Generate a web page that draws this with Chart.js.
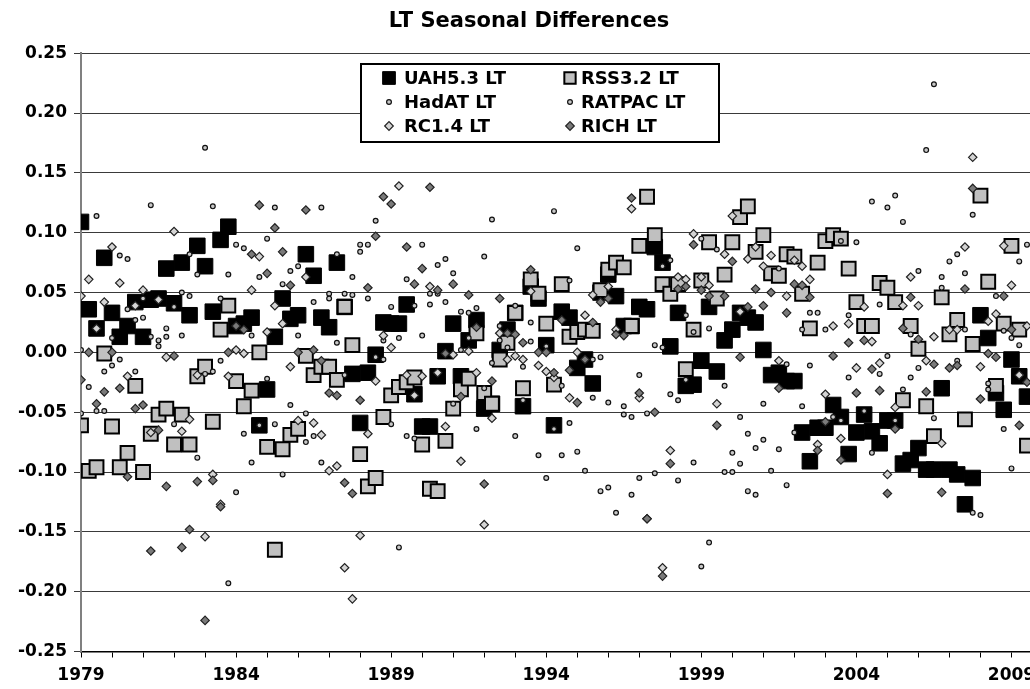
<!DOCTYPE html>
<html>
<head>
<meta charset="utf-8">
<script src="https://cdn.jsdelivr.net/npm/chart.js@4.4.1/dist/chart.umd.min.js"></script>
<style>
html,body{margin:0;padding:0;background:#fff;overflow:hidden;width:1030px;height:689px;}
#wrap{width:1030px;height:689px;overflow:hidden;position:relative;background:#fff;}
canvas{display:block;}
</style>
</head>
<body>
<div id="wrap"><canvas id="c" width="1100" height="689"></canvas></div>
<script>
// Seasonal (quarterly) series, first value at 1979.0, one value per quarter
const startYear = 1979;
const xTickLabels = ['1979','1984','1989','1994','1999','2004','2009'];
const yTickLabels = ['-0.25','-0.20','-0.15','-0.10','-0.05','0.00','0.05','0.10','0.15','0.20','0.25'];
const seriesNames = ['UAH5.3 LT','RSS3.2 LT','HadAT LT','RATPAC LT','RC1.4 LT','RICH LT'];

const uah = [
.109,.036,.020,.079,.033,.013,.022,.042,.013,.044,
.045,.070,.041,.075,.031,.089,.072,.034,.094,.105,
.022,.024,.029,-.061,-.031,
.013,.045,.028,.031,.082,.064,.029,.021,.075,.038,
-.018,-.059,-.017,-.002,.025,.024,.024,.040,-.035,-.062,
-.062,-.020,.001,.024,
-.020,.010,.027,-.047,-.043,.002,.019,.033,-.045,.055,
.045,.006,-.061,.034,.029,-.013,-.006,-.026,.050,.065,
.047,.022,.022,.038,
.036,.088,.075,.005,.033,-.028,-.027,-.007,.038,-.016,
.010,.019,.033,.029,.025,.002,-.019,-.017,-.024,-.024,
-.067,-.091,-.063,-.063,-.044,
-.054,-.085,-.067,-.052,-.066,-.076,-.057,-.057,-.093,-.090,
-.080,-.098,-.098,-.030,-.098,-.102,-.127,-.105,.031,.012,
-.034,-.048,-.006,-.020,-.037
];
const rss = [
-.061,-.099,-.096,-.001,-.062,-.096,-.084,-.028,-.100,-.068,
-.052,-.047,-.077,-.052,-.077,-.020,-.012,-.058,.019,.039,
-.024,-.045,-.032,.000,-.079,
-.165,-.081,-.069,-.064,-.003,-.019,-.012,-.012,-.023,.038,
.006,-.085,-.112,-.105,-.054,-.036,-.029,-.025,-.021,-.077,
-.114,-.116,-.074,-.047,-.031,
-.022,.016,-.034,-.043,-.006,.008,.033,-.030,.061,.049,
.024,-.027,.057,.013,.017,.019,.018,.052,.069,.075,
.071,.022,.089,.130,
.098,.057,.049,.057,-.014,.019,.060,.092,.045,.065,
.092,.113,.122,.084,.098,.066,.064,.082,.080,.049,
.020,.075,.093,.098,
.095,.070,.042,.022,.022,.058,.054,.042,-.040,.022,
.003,-.045,-.070,.046,.015,.027,-.056,.007,.131,.059,
-.028,.024,.089,.019,-.078
];
const hadat = [
.002,-.029,.114,-.016,.012,.081,.078,.027,.045,.123,
.010,.020,.038,.050,.082,.065,.171,.122,.045,.065,
.090,.087,.014,.063,.095,
.121,.057,.068,.072,-.051,.042,.121,.049,.082,.049,
.063,.090,.090,.110,.010,.038,.012,.061,.039,.090,
.049,.073,.078,.066,.034,
.033,.037,.080,.111,.022,.004,.039,-.012,.025,-.086,
.005,.118,-.028,.060,.087,-.099,-.006,-.004,-.042,-.134,
-.045,-.054,-.019,-.051,
.006,.072,.077,-.040,.031,.017,.095,.020,.086,-.028,
-.084,-.054,-.068,-.080,-.043,-.099,.070,-.010,-.067,.019,
.033,.033,.019,-.054,
.093,.031,.092,-.049,.126,.040,.121,.131,.109,.015,
.068,.169,.224,.063,.076,.082,.066,.115,-.136,-.026,
.047,.018,.012,.076,.090
];
const ratpac = [
-.051,null,-.049,-.049,-.011,-.006,.036,-.016,.029,.013,
.005,.013,-.060,.014,.047,-.088,-.018,-.016,-.007,-.193,
-.117,-.068,-.092,-.061,-.022,
-.060,-.102,-.044,.014,-.075,-.070,-.092,.045,.008,-.019,
.048,.084,.045,-.004,-.006,-.060,-.163,-.070,-.072,.014,
.040,.049,.042,-.043,.002,
.012,-.064,-.030,-.009,.010,null,-.070,-.040,.009,null,
-.105,-.064,-.086,-.059,-.083,null,-.038,-.116,-.113,null,
-.052,-.119,-.105,null,
-.101,.004,-.035,-.107,-.023,-.092,-.179,-.159,null,-.100,
-.100,-.093,-.116,-.119,-.073,null,-.081,-.111,null,-.045,
-.011,null,null,null,
-.057,-.021,null,null,-.084,-.018,-.003,-.057,-.031,-.021,
-.013,null,-.055,.054,null,-.007,.019,-.134,null,-.031,
null,-.064,-.097,.006,null
];
const rc = [
.047,.061,.020,.042,.088,.058,-.020,.039,.052,-.067,
.044,-.004,.101,-.066,-.056,-.019,-.154,-.102,-.127,-.020,
.002,-.001,.052,.080,.017,
.039,.024,-.012,-.057,.063,-.059,-.069,-.099,-.095,-.180,
-.206,-.153,-.068,-.024,.014,.004,.139,-.019,-.036,-.020,
.055,-.017,-.062,-.002,-.091,
.001,-.017,-.144,-.055,.016,-.006,-.003,-.006,.051,-.011,
-.016,-.021,null,-.038,.000,.031,.048,null,.055,.019,
null,.120,-.038,-.139,
null,-.180,-.082,.063,.061,.099,.063,.056,-.043,.082,
.114,.034,.078,.088,.072,.081,-.007,.047,.077,.072,
.061,-.077,-.035,.022,
-.072,.024,-.013,.038,.009,-.009,-.102,-.046,.039,.063,
.039,-.007,.013,-.076,.019,.019,.088,.163,-.012,.026,
.032,.089,.056,-.019,.022
];
const rich = [
-.023,.000,-.043,-.033,.000,-.030,-.104,-.047,-.044,-.166,
-.065,-.112,-.003,-.163,-.148,-.108,-.224,-.107,-.129,.000,
.022,.019,.082,.123,.066,
.104,.084,.056,.000,.119,.002,-.007,-.034,-.036,-.109,
-.118,-.040,.054,.097,.130,.124,null,.088,.057,.070,
.138,.052,-.001,.057,-.037,
.048,.021,-.110,-.024,.045,.016,.015,.008,.069,.000,
.000,-.017,.027,-.015,-.042,-.006,.025,.042,.045,.015,
.014,.129,-.034,-.139,
-.050,-.187,-.093,.053,.055,.090,.052,.047,-.061,.047,
.076,-.004,.038,.053,.039,.050,-.030,.033,.057,.056,
.046,-.082,-.058,-.003,
-.090,.008,-.034,.010,-.014,-.032,-.118,-.064,.020,.046,
.011,-.033,-.010,-.117,-.013,-.011,.053,.137,-.039,-.001,
-.004,.047,.019,-.061,-.025
];

function toPoints(arr) {
  const pts = [];
  arr.forEach((v, i) => { if (v !== null) pts.push({x: startYear + i / 4, y: v}); });
  return pts;
}

Chart.defaults.font.family = "'DejaVu Sans', Verdana, sans-serif";
Chart.defaults.color = '#000';

const styles = [
  {pointStyle:'rect', radius:11, bg:'#000000', bd:'#000000', bw:1, order:6, lr:9},
  {pointStyle:'rect', radius:9.8, bg:'#c0c0c0', bd:'#000000', bw:2, order:5, lr:8},
  {pointStyle:'circle', radius:2.4, bg:'#c8c8c8', bd:'#111111', bw:1.2, order:4, lr:2.4},
  {pointStyle:'circle', radius:2.4, bg:'#c8c8c8', bd:'#111111', bw:1.2, order:3, lr:2.4},
  {pointStyle:'rectRot', radius:4.2, bg:'#d4d4d4', bd:'#222222', bw:1.2, order:2, lr:4.3},
  {pointStyle:'rectRot', radius:4.2, bg:'#7a7a7a', bd:'#222222', bw:1.2, order:1, lr:4.3}
];
const allSeries = [uah, rss, hadat, ratpac, rc, rich];

const datasets = allSeries.map((arr, i) => ({
  label: seriesNames[i],
  data: toPoints(arr),
  pointStyle: styles[i].pointStyle,
  pointRadius: styles[i].radius,
  pointHoverRadius: styles[i].radius,
  backgroundColor: styles[i].bg,
  borderColor: styles[i].bd,
  pointBorderWidth: styles[i].bw,
  borderWidth: styles[i].bw,
  showLine: false,
  order: styles[i].order
}));

function drawMarker(ctx, st, x, y, r) {
  ctx.save();
  ctx.fillStyle = st.bg; ctx.strokeStyle = st.bd; ctx.lineWidth = st.bw;
  ctx.beginPath();
  if (st.pointStyle === 'rect') {
    const s = r * Math.SQRT1_2;
    ctx.rect(x - s, y - s, 2 * s, 2 * s);
  } else if (st.pointStyle === 'rectRot') {
    ctx.moveTo(x - r, y); ctx.lineTo(x, y - r); ctx.lineTo(x + r, y); ctx.lineTo(x, y + r); ctx.closePath();
  } else {
    ctx.arc(x, y, r, 0, Math.PI * 2);
  }
  ctx.fill(); ctx.stroke();
  ctx.restore();
}

const boxLegend = {
  id: 'boxLegend',
  afterDatasetsDraw(chart) {
    const ctx = chart.ctx;
    const L = 361, T = 64, W = 358, H = 78;
    ctx.save();
    ctx.fillStyle = '#ffffff';
    ctx.fillRect(L, T, W, H);
    ctx.lineWidth = 2; ctx.strokeStyle = '#000';
    ctx.strokeRect(L, T, W, H);
    ctx.font = "bold 18px 'DejaVu Sans', Verdana, sans-serif";
    ctx.fillStyle = '#000'; ctx.textBaseline = 'middle'; ctx.textAlign = 'left';
    const colMarker = [389, 570], colText = [404, 581], rows = [78, 102, 126];
    seriesNames.forEach((name, i) => {
      const c = i % 2, r = Math.floor(i / 2);
      drawMarker(ctx, styles[i], colMarker[c], rows[r], styles[i].lr);
      ctx.fillStyle = '#000';
      ctx.fillText(name, colText[c], rows[r] + 1);
    });
    ctx.restore();
  }
};

new Chart(document.getElementById('c'), {
  type: 'scatter',
  data: { datasets },
  plugins: [boxLegend],
  options: {
    responsive: false,
    animation: false,
    events: [],
    layout: { padding: { left: 0, right: 42, top: 0, bottom: 0 } },
    plugins: {
      legend: { display: false },
      tooltip: { enabled: false },
      title: {
        display: true,
        text: 'LT Seasonal Differences',
        color: '#000',
        font: { size: 21, weight: 'bold' },
        padding: { top: 9, bottom: 19 }
      }
    },
    scales: {
      x: {
        type: 'linear',
        min: 1979,
        max: 2010.5,
        afterFit: (s) => { s.height = 37.5; },
        border: { display: true, color: '#000', width: 1.5 },
        grid: { drawOnChartArea: false, drawTicks: true, tickLength: 6, color: '#000', lineWidth: 1 },
        ticks: {
          stepSize: 1,
          autoSkip: false,
          includeBounds: false,
          maxRotation: 0,
          padding: 8,
          color: '#000',
          font: { size: 17, weight: 'bold' },
          callback: (v) => xTickLabels.includes(String(v)) ? String(v) : ''
        }
      },
      y: {
        min: -0.25,
        max: 0.25,
        afterFit: (s) => { s.width = 81; },
        border: { display: true, color: '#808080', width: 2 },
        grid: { color: '#3a3a3a', lineWidth: 1, drawTicks: true, tickLength: 7 },
        ticks: {
          stepSize: 0.05,
          padding: 7,
          color: '#000',
          font: { size: 17, weight: 'bold' },
          callback: (v) => {
            const idx = Math.round((v + 0.25) / 0.05);
            return yTickLabels[idx] !== undefined ? yTickLabels[idx] : '';
          }
        }
      }
    }
  }
});
</script>
</body>
</html>
